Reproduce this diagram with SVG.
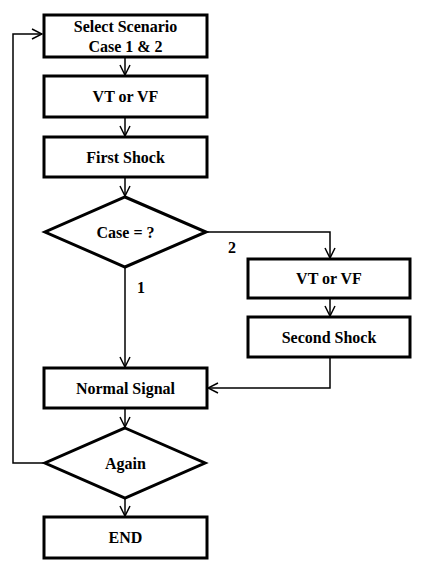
<svg xmlns="http://www.w3.org/2000/svg" width="424" height="562" viewBox="0 0 424 562">
<style>
.box{fill:#fff;stroke:#000;stroke-width:3}
.t{font-family:"Liberation Serif","Times New Roman",serif;font-weight:bold;font-size:16px;text-anchor:middle;fill:#000}
.c{fill:none;stroke:#000;stroke-width:1.5}
</style>
<defs>
<marker id="ah" viewBox="0 0 12 12" refX="11" refY="6" markerWidth="12" markerHeight="12" markerUnits="userSpaceOnUse" orient="auto">
<path d="M1,1 L11,6 L1,11" fill="none" stroke="#000" stroke-width="1.5"/>
</marker>
</defs>
<rect width="424" height="562" fill="#fff"/>
<g id="connectors">
<line class="c" x1="125" y1="57" x2="125" y2="75" marker-end="url(#ah)"/>
<line class="c" x1="125" y1="117" x2="125" y2="136" marker-end="url(#ah)"/>
<line class="c" x1="125" y1="177" x2="125" y2="196" marker-end="url(#ah)"/>
<polyline class="c" points="207,232 330,232 330,258" marker-end="url(#ah)"/>
<line class="c" x1="330" y1="298" x2="330" y2="316" marker-end="url(#ah)"/>
<line class="c" x1="125" y1="267" x2="125" y2="367" marker-end="url(#ah)"/>
<polyline class="c" points="330,357 330,388 208,388" marker-end="url(#ah)"/>
<line class="c" x1="125" y1="408" x2="125" y2="427" marker-end="url(#ah)"/>
<line class="c" x1="125" y1="498" x2="125" y2="516" marker-end="url(#ah)"/>
<polyline class="c" points="45,463 13,463 13,34 42,34" marker-end="url(#ah)"/>
<text class="t" x="232" y="253">2</text>
<text class="t" x="141" y="293">1</text>
</g>
<g id="n1"><rect class="box" x="44" y="15" width="163" height="42"/><text class="t" x="125.5" y="32">Select Scenario</text><text class="t" x="125.5" y="52">Case 1 &amp; 2</text></g>
<g id="n2"><rect class="box" x="44" y="76" width="163" height="41"/><text class="t" x="125.5" y="102">VT or VF</text></g>
<g id="n3"><rect class="box" x="44" y="137" width="163" height="40"/><text class="t" x="125.5" y="163">First Shock</text></g>
<g id="n4"><polygon class="box" points="125,197 206,232 125,267 45,232"/><text class="t" x="125.5" y="238">Case = ?</text></g>
<g id="n5"><rect class="box" x="248" y="259" width="162" height="39"/><text class="t" x="329" y="284">VT or VF</text></g>
<g id="n6"><rect class="box" x="248" y="317" width="162" height="40"/><text class="t" x="329" y="343">Second Shock</text></g>
<g id="n7"><rect class="box" x="44" y="368" width="163" height="40"/><text class="t" x="125.5" y="394">Normal Signal</text></g>
<g id="n8"><polygon class="box" points="125,428 205,463 125,498 45,463"/><text class="t" x="125.5" y="469">Again</text></g>
<g id="n9"><rect class="box" x="44" y="517" width="163" height="41"/><text class="t" x="125.5" y="543">END</text></g>
</svg>
